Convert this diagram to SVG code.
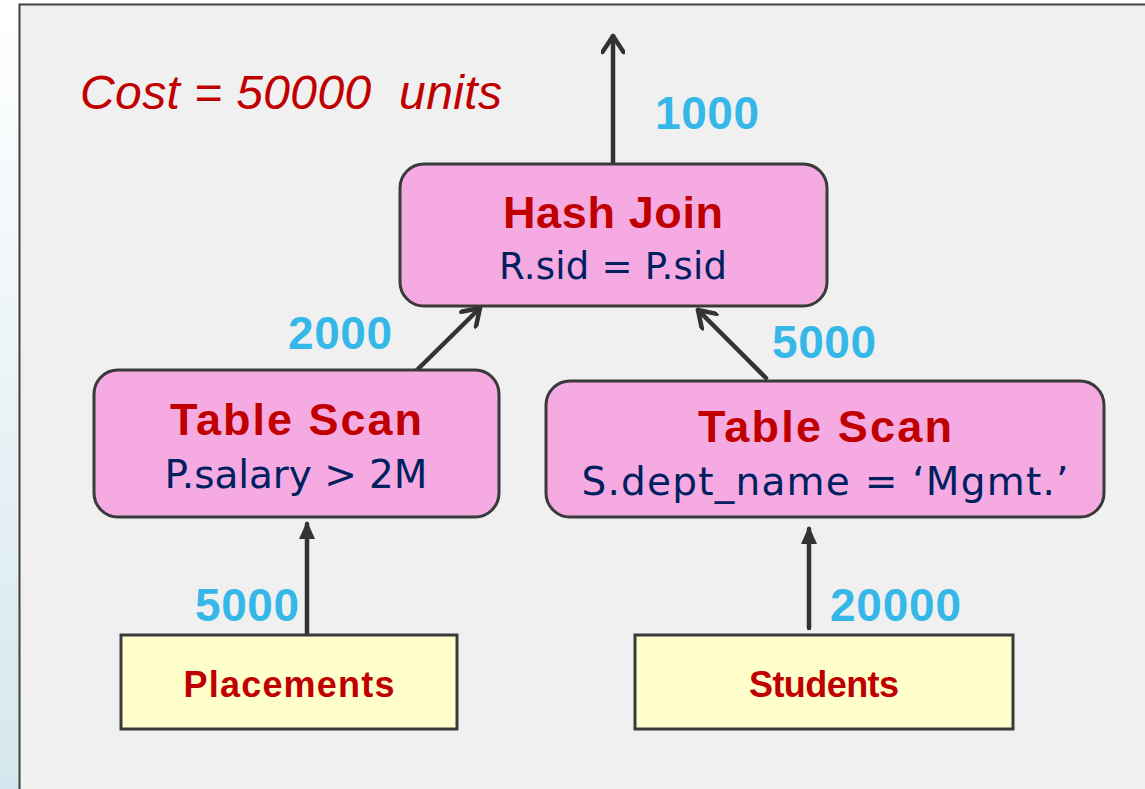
<svg xmlns="http://www.w3.org/2000/svg" width="1145" height="789" viewBox="0 0 1145 789">
  <defs>
    <linearGradient id="sideStrip" x1="0" y1="0" x2="0" y2="1">
      <stop offset="0" stop-color="#ffffff"/>
      <stop offset="1" stop-color="#d5e7ee"/>
    </linearGradient>
    <!-- open chevron head, drawn pointing along +x -->
    <marker id="chevron" viewBox="0 0 24 24" refX="20" refY="12" markerWidth="24" markerHeight="24" markerUnits="userSpaceOnUse" orient="auto">
      <path d="M4 1.5 L20 12 L4 22.5" fill="none" stroke="#333333" stroke-width="4.5" stroke-linecap="round" stroke-linejoin="round"/>
    </marker>
    <!-- small filled head, drawn pointing along +x -->
    <marker id="tri" viewBox="0 0 22 22" refX="17" refY="11" markerWidth="22" markerHeight="22" markerUnits="userSpaceOnUse" orient="auto">
      <path d="M2 3 L20 11 L2 19 Z" fill="#333333"/>
    </marker>
    <style>
      .op { fill: #f5aae2; stroke: #3a3a3a; stroke-width: 3; }
      .rel { fill: #ffffcc; stroke: #3a3a3a; stroke-width: 3; }
      .title { font-family: "Liberation Sans", Arial, sans-serif; font-weight: bold; fill: #c00000; text-anchor: middle; }
      .cond { font-family: "DejaVu Sans", "Liberation Sans", sans-serif; fill: #002060; text-anchor: middle; }
      .relname { font-family: "Liberation Sans", Arial, sans-serif; font-weight: bold; fill: #c00000; text-anchor: middle; font-size: 36px; }
      .card { font-family: "Liberation Sans", Arial, sans-serif; font-weight: bold; fill: #35b8e8; font-size: 46px; }
      .edge { stroke: #333333; stroke-width: 4.5; stroke-linecap: round; fill: none; }
    </style>
  </defs>

  <!-- page backdrop -->
  <rect x="0" y="0" width="1145" height="789" fill="url(#sideStrip)"/>
  <rect x="19.5" y="4.5" width="1140" height="800" fill="#f0f0f0" stroke="#404040" stroke-width="2"/>

  <text x="80" y="109" font-family="'Liberation Sans', Arial, sans-serif" font-style="italic" font-size="48" fill="#c00000" textLength="422" xml:space="preserve">Cost = 50000  units</text>

  <!-- connectors -->
  <g id="connectors">
    <line class="edge" x1="613" y1="164" x2="613" y2="36" marker-end="url(#chevron)"/>
    <line class="edge" x1="417" y1="370" x2="480" y2="308" marker-end="url(#chevron)"/>
    <line class="edge" x1="766" y1="378" x2="698" y2="310" marker-end="url(#chevron)"/>
    <line class="edge" x1="307" y1="635" x2="307" y2="524" marker-end="url(#tri)"/>
    <line class="edge" x1="809" y1="628" x2="809" y2="529" marker-end="url(#tri)"/>
    <text class="card" x="655" y="129" textLength="104">1000</text>
    <text class="card" x="288" y="349" textLength="104">2000</text>
    <text class="card" x="772" y="358" textLength="104">5000</text>
    <text class="card" x="195" y="621" textLength="104">5000</text>
    <text class="card" x="830" y="621" textLength="131">20000</text>
  </g>

  <g id="hash-join">
    <rect class="op" x="400" y="164" width="427" height="142" rx="24"/>
    <text class="title" x="613" y="228" font-size="45" textLength="220">Hash Join</text>
    <text class="cond" x="613" y="279" font-size="37" textLength="228">R.sid = P.sid</text>
  </g>

  <g id="scan-placements">
    <rect class="op" x="94" y="370" width="405" height="147" rx="24"/>
    <text class="title" x="296" y="435" font-size="45" textLength="252">Table Scan</text>
    <text class="cond" x="296" y="488" font-size="39" textLength="263">P.salary &gt; 2M</text>
  </g>

  <g id="scan-students">
    <rect class="op" x="546" y="381" width="558" height="136" rx="24"/>
    <text class="title" x="825" y="442" font-size="45" textLength="254">Table Scan</text>
    <text class="cond" x="825" y="495" font-size="39" textLength="487">S.dept_name = ‘Mgmt.’</text>
  </g>

  <g id="placements">
    <rect class="rel" x="121" y="635" width="336" height="94"/>
    <text class="relname" x="289" y="697" textLength="211">Placements</text>
  </g>

  <g id="students">
    <rect class="rel" x="635" y="635" width="378" height="94"/>
    <text class="relname" x="824" y="697" textLength="150">Students</text>
  </g>
</svg>
